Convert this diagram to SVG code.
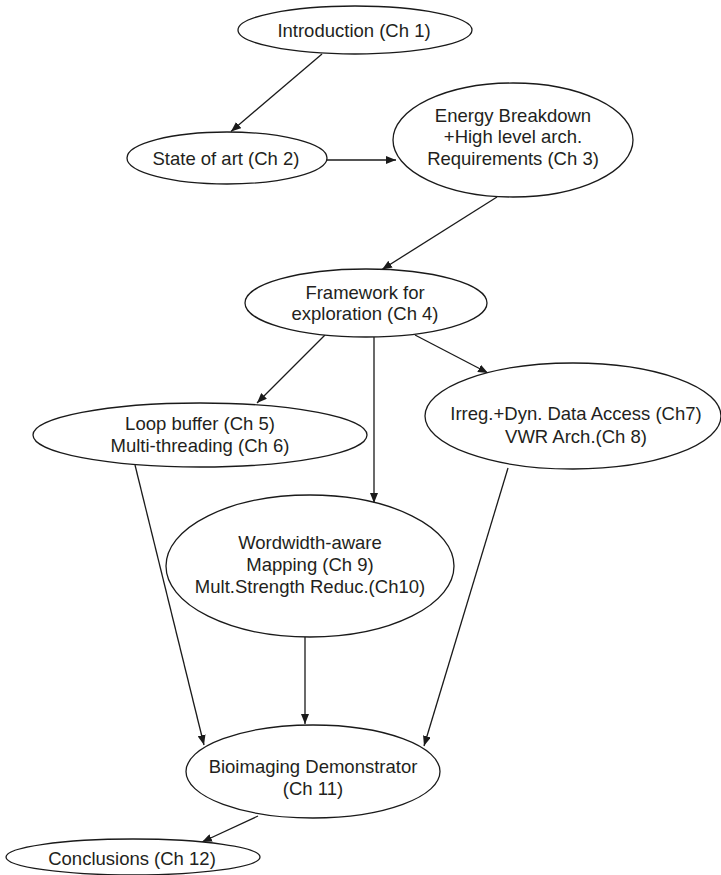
<svg xmlns="http://www.w3.org/2000/svg" width="721" height="875" viewBox="0 0 721 875">
  <style>
    .node ellipse { fill: #ffffff; stroke: #1a1a1a; stroke-width: 1.3; }
    .node text { font-family: "Liberation Sans", Arial, Helvetica, sans-serif; font-size: 18.5px; fill: #231f20; text-anchor: middle; }
    .edge { stroke: #1a1a1a; stroke-width: 1.3; fill: none; marker-end: url(#arrow); }
  </style>
  <defs>
    <marker id="arrow" markerUnits="userSpaceOnUse" viewBox="0 0 10 8" markerWidth="10" markerHeight="8" refX="10" refY="4" orient="auto">
      <path d="M0,0 L10,4 L0,8 z" fill="#1a1a1a"/>
    </marker>
  </defs>

  <rect width="721" height="875" fill="#ffffff"/>

  <!-- connectors -->
  <g id="connectors">
    <line class="edge" x1="322" y1="54" x2="231" y2="131.5"/>
    <line class="edge" x1="327" y1="160" x2="396" y2="160"/>
    <line class="edge" x1="497" y1="197" x2="382" y2="269.5"/>
    <line class="edge" x1="325" y1="335" x2="257" y2="403"/>
    <line class="edge" x1="374" y1="337" x2="374" y2="503"/>
    <line class="edge" x1="415" y1="335" x2="488" y2="373"/>
    <line class="edge" x1="135" y1="465" x2="204" y2="745"/>
    <line class="edge" x1="305" y1="637" x2="305" y2="724"/>
    <line class="edge" x1="508" y1="468" x2="424" y2="746"/>
    <line class="edge" x1="258" y1="816" x2="202" y2="842"/>
  </g>

  <!-- nodes -->
  <g id="ch1" class="node">
    <ellipse cx="355" cy="30" rx="117" ry="24"/>
    <text x="354" y="37">Introduction (Ch 1)</text>
  </g>
  <g id="ch2" class="node">
    <ellipse cx="227" cy="158" rx="100" ry="26"/>
    <text x="226" y="164.5">State of art (Ch 2)</text>
  </g>
  <g id="ch3" class="node">
    <ellipse cx="513" cy="140" rx="120" ry="57"/>
    <text x="513" y="121.5">Energy Breakdown</text>
    <text x="513" y="143">+High level arch.</text>
    <text x="513" y="164.5">Requirements (Ch 3)</text>
  </g>
  <g id="ch4" class="node">
    <ellipse cx="366" cy="303" rx="121" ry="34"/>
    <text x="365" y="298.5">Framework for</text>
    <text x="365" y="319.5">exploration (Ch 4)</text>
  </g>
  <g id="ch5-6" class="node">
    <ellipse cx="200" cy="435" rx="167" ry="32"/>
    <text x="200" y="429.5">Loop buffer (Ch 5)</text>
    <text x="200" y="451.5">Multi-threading (Ch 6)</text>
  </g>
  <g id="ch7-8" class="node">
    <ellipse cx="573" cy="416" rx="148" ry="53"/>
    <text x="576" y="419.5">Irreg.+Dyn. Data Access (Ch7)</text>
    <text x="576" y="442.5">VWR Arch.(Ch 8)</text>
  </g>
  <g id="ch9-10" class="node">
    <ellipse cx="310" cy="566" rx="144" ry="71"/>
    <text x="310" y="548.5">Wordwidth-aware</text>
    <text x="310" y="570.5">Mapping (Ch 9)</text>
    <text x="310" y="592.5">Mult.Strength Reduc.(Ch10)</text>
  </g>
  <g id="ch11" class="node">
    <ellipse cx="313" cy="771.5" rx="127" ry="46.5"/>
    <text x="313" y="773">Bioimaging Demonstrator</text>
    <text x="313" y="795">(Ch 11)</text>
  </g>
  <g id="ch12" class="node">
    <ellipse cx="133" cy="857" rx="127" ry="18"/>
    <text x="132" y="864.5">Conclusions (Ch 12)</text>
  </g>
</svg>
